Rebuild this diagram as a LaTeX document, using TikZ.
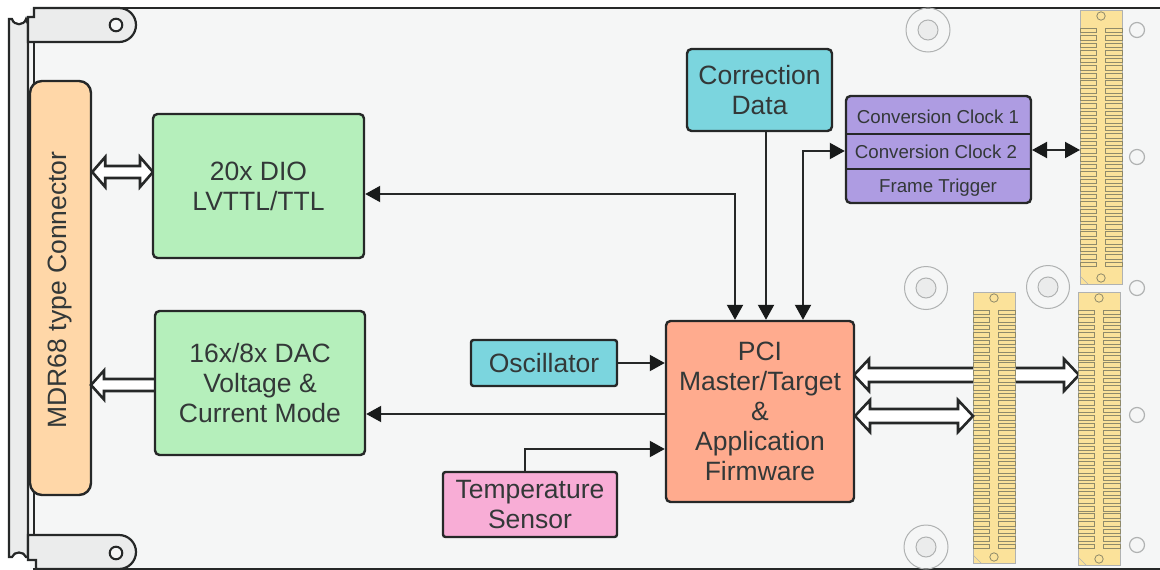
\documentclass[tikz,border=0pt]{standalone}
\usepackage{fontspec}
\setmainfont{Liberation Sans}
\usetikzlibrary{arrows.meta,calc}
\definecolor{boardbg}{HTML}{F5F6F6}
\definecolor{plate}{HTML}{EBECEC}
\definecolor{ink}{HTML}{262828}
\definecolor{tipc}{HTML}{181A1A}
\definecolor{txt}{HTML}{333838}
\definecolor{gold}{HTML}{FBE29A}
\definecolor{ringc}{HTML}{B0B2B2}
\definecolor{padc}{HTML}{8F8A6A}
\definecolor{cgreen}{HTML}{B5EFBB}
\definecolor{corange}{HTML}{FFD7A8}
\definecolor{ccyan}{HTML}{7BD5DE}
\definecolor{cpurple}{HTML}{AE9CE2}
\definecolor{csalmon}{HTML}{FFAB8E}
\definecolor{cpink}{HTML}{F8ADD6}
\tikzset{
  blockbox/.style={draw=ink,line width=2.4pt,rounded corners=4.5pt,inner sep=0pt,align=center,text=txt,
    font=\fontsize{26.5}{30}\selectfont,execute at begin node={\vspace*{2pt}}},
  rowtext/.style={inner sep=0pt,text=txt,font=\fontsize{18.7}{22}\selectfont},
  wire/.style={draw=ink,line width=2pt},
  tipa/.style={-{Triangle[length=15pt,width=16pt,color=tipc]}},
  tipb/.style={{Triangle[length=15pt,width=16pt,color=tipc]}-{Triangle[length=15pt,width=16pt,color=tipc]}},
  hollow/.style={draw=ink,fill=white,line width=2.6pt,miter limit=6},
  ring/.style={draw=ringc,line width=1pt},
  ringfill/.style={draw=ringc,line width=1pt,fill=plate},
  platebody/.style={draw=ink,fill=plate,line width=2.2pt},
}
% connector strip: x left, y top, height
\newcommand{\strip}[3]{%
  \begin{scope}[shift={(#1,#2)}]
    \fill[gold,draw=ringc,line width=.6pt] (0,0) rectangle (42,#3);
    \draw[padc,line width=.8pt] (21,6) circle (4.2);
    \draw[padc,line width=.8pt] (21,#3-6) circle (4.2);
    \draw[ringc,line width=.6pt] (0,#3-8) -- (8,#3);
    \pgfmathsetmacro{\npads}{int((#3-34)/7.55)}
    \foreach \i in {0,...,\npads}{
      \pgfmathsetmacro{\yy}{18+7.55*\i}
      \draw[padc,line width=.8pt] (0,\yy) rectangle (16.5,\yy+4.6);
      \draw[padc,line width=.8pt] (25.5,\yy) rectangle (42,\yy+4.6);
    }
  \end{scope}}
% hollow arrows, horizontal: half shaft #1, from #2 to #3 (named coordinates); head length \hlen
\def\hlen{15}
\newcommand{\hollowL}[3]{%
  \path let \p1=(#2),\p2=(#3) in coordinate (ha) at (\x1,\y1) coordinate (hb) at (\x2,\y1);
  \draw[hollow] (ha) ++(0,#1) -- ($(hb)+(\hlen,#1)$) -- ($(hb)+(\hlen,#1+8.5)$) -- (hb) -- ($(hb)+(\hlen,-#1-8.5)$) -- ($(hb)+(\hlen,-#1)$) -- ($(ha)+(0,-#1)$);}
\newcommand{\hollowB}[3]{%
  \path let \p1=(#2),\p2=(#3) in coordinate (ha) at (\x1,\y1) coordinate (hb) at (\x2,\y1);
  \draw[hollow] (ha) -- ($(ha)+(\hlen,#1+9)$) -- ($(ha)+(\hlen,#1)$) -- ($(hb)+(-\hlen,#1)$) -- ($(hb)+(-\hlen,#1+9)$) -- (hb) -- ($(hb)+(-\hlen,-#1-9)$) -- ($(hb)+(-\hlen,-#1)$) -- ($(ha)+(\hlen,-#1)$) -- ($(ha)+(\hlen,-#1-9)$) -- cycle;}
\begin{document}
\begin{tikzpicture}[x=1pt,y=-1pt]
\useasboundingbox (0,0) rectangle (1160,570);
\fill[white] (0,0) rectangle (1160,570);
% board
\fill[boardbg] (30,8) rectangle (1160,569);
\draw[ink,line width=2.2pt] (33,8) -- (1160,8);
\draw[ink,line width=2.2pt] (33,569) -- (1160,569);
\draw[ink,line width=2.2pt] (34,30) -- (34,540);
% rail
\draw[platebody] (28,24) -- (26,19) .. controls (24,26) and (14,26) .. (12,19) -- (9,19) -- (9,557) -- (12,557)
  .. controls (14,551) and (24,551) .. (26,557) -- (28,557) -- cycle;
% mounting rings
\foreach \cx/\cy/\ro in {928/30/22,926/288/21.5,1048/287/21.5,926/547/22}{
  \draw[ring] (\cx,\cy) circle (\ro);
  \draw[ringfill] (\cx,\cy) circle (10);
}
\foreach \cy in {30,157,288,415,545}{\draw[ring,line width=1.2pt] (1137,\cy) circle (7.5);}
% brackets
\draw[platebody] (28,42) -- (28,17) -- (34,17) -- (34,8) [rounded corners=17pt] -- (136,8) -- (136,42) [sharp corners] -- cycle;
\draw[ink,line width=2pt,fill=boardbg] (116,25) circle (6.3);
\draw[platebody] (28,535) -- (28,560) -- (36,560) -- (36,569) [rounded corners=17pt] -- (136,569) -- (136,535) [sharp corners] -- cycle;
\draw[ink,line width=2pt,fill=boardbg] (116,553) circle (6.3);
% gold strips
\strip{1080}{10}{274}
% big hollow arrow running under the middle strip
\coordinate (pciTop) at (854,375);
\coordinate (stripTip) at (1079,375);
\hollowB{7}{pciTop}{stripTip}
\strip{973}{292}{271}
\strip{1078}{292}{273}
% blocks
\node[blockbox,fill=corange,minimum width=61pt,minimum height=414pt,rounded corners=12pt] (mdr) at (60.5,288) {};
\node[text=txt,rotate=90,inner sep=0pt,font=\fontsize{26.5}{30}\selectfont] (mdrtxt) at (60,290) {MDR68 type Connector};
\coordinate (d1) at (mdr.east |- 0,172);
\coordinate (d2) at (153,172);
\coordinate (d3) at (155,385);
\coordinate (d4) at (91,385);
\def\hlen{13}
\hollowB{6}{d1}{d2}
\hollowL{6}{d3}{d4}
\def\hlen{15}
\node[blockbox,fill=cgreen,minimum width=211pt,minimum height=144pt] (dio) at (258.5,186) {20x DIO\\LVTTL/TTL};
\node[blockbox,fill=cgreen,minimum width=210pt,minimum height=144pt] (dac) at (260,383) {16x/8x DAC\\Voltage \&\\Current Mode};
\node[blockbox,fill=ccyan,minimum width=145pt,minimum height=82pt] (corr) at (759.5,90) {Correction\\Data};
\node[blockbox,fill=cpurple,minimum width=185pt,minimum height=107pt] (conv) at (938.5,149.5) {};
\draw[ink,line width=1.6pt] (846,134) -- (1031,134);
\draw[ink,line width=1.6pt] (846,169) -- (1031,169);
\node[rowtext] (c1) at (938,117) {Conversion Clock 1};
\node[rowtext] (c2) at (936,151.5) {Conversion Clock 2};
\node[rowtext] (c3) at (938,187.5) {Frame Trigger};
\node[blockbox,fill=ccyan,minimum width=146pt,minimum height=46pt,rounded corners=2.5pt] (osc) at (544,363) {Oscillator};
\node[blockbox,fill=cpink,minimum width=174pt,minimum height=65pt,rounded corners=2.5pt] (temp) at (530,504.5) {Temperature\\Sensor};
\node[blockbox,fill=csalmon,minimum width=188pt,minimum height=181pt] (pci) at (760,411.5) {PCI\\Master/Target\\\&\\Application\\Firmware};
% second big hollow arrow
\coordinate (p2a) at (855,416);
\coordinate (p2b) at (973,416);
\hollowB{7}{p2a}{p2b}
% wires
\coordinate (w1) at (735,194);
\draw[wire,tipb] (dio.east |- w1) -- (w1) -- (w1 |- pci.north);
\draw[wire,tipa] (corr.south -| 766,0) -- (pci.north -| 766,0);
\coordinate (w2) at (803,151);
\draw[wire,tipb] (pci.north -| w2) -- (w2) -- (conv.west |- w2);
\coordinate (w3) at (1032,150);
\coordinate (w4) at (1080,150);
\draw[wire,tipb] (w3) -- (w4);
\draw[wire,tipa] (osc.east) -- (pci.west |- osc.east);
\coordinate (w5) at (666,414);
\draw[wire,tipa] (w5) -- (dac.east |- w5);
\coordinate (w6) at (525,449);
\draw[wire,tipa] (temp.north -| w6) -- (w6) -- (pci.west |- w6);
\end{tikzpicture}
\end{document}
